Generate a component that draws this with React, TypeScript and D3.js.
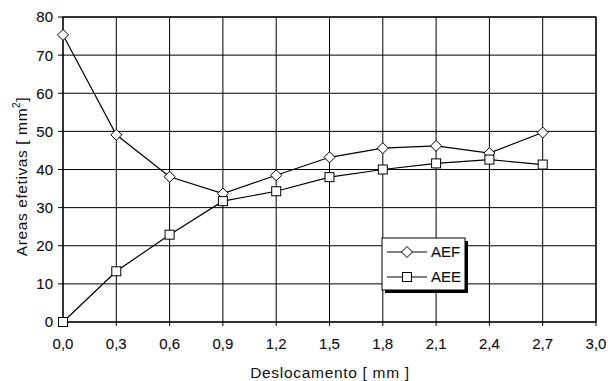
import React from 'react';
import * as d3 from 'd3';

// Deslocamento [mm]
const deslocamento = [0, 0.3, 0.6, 0.9, 1.2, 1.5, 1.8, 2.1, 2.4, 2.7];
const aef = [75.3, 49.1, 38.1, 33.7, 38.5, 43.2, 45.6, 46.2, 44.3, 49.7];
const aee = [0, 13.3, 22.9, 31.7, 34.3, 38.0, 40.0, 41.6, 42.6, 41.3];
const xTicks = [0, 0.3, 0.6, 0.9, 1.2, 1.5, 1.8, 2.1, 2.4, 2.7, 3.0];
const yTicks = [0, 10, 20, 30, 40, 50, 60, 70, 80];

const W = 608;
const H = 381;
const font = "'Liberation Sans', Arial, sans-serif";

function App() {
    const x = d3.scaleLinear().domain([0, 3]).range([63, 596]);
    const y = d3.scaleLinear().domain([0, 80]).range([322, 17]);

    const line = d3.line<number>()
        .x((_, i) => x(deslocamento[i]))
        .y((d) => y(d));

    const fmt = (v: number) => v.toFixed(1).replace('.', ',');

    const diamond = (cx: number, cy: number, key: string | number) => (
        <path key={key} d={`M${cx},${cy - 5.5}L${cx + 5.5},${cy}L${cx},${cy + 5.5}L${cx - 5.5},${cy}Z`}
            fill="#fff" stroke="#000" strokeWidth={1} />
    );
    const square = (cx: number, cy: number, key: string | number) => (
        <rect key={key} x={cx - 4.5} y={cy - 4.5} width={9} height={9}
            fill="#fff" stroke="#000" strokeWidth={1} />
    );

    // legend box
    const lg = { x: 382, y: 238, w: 83, h: 52 };
    const txt = { fill: '#111', stroke: '#111', strokeWidth: 0.15 };

    return (
        <svg width={W} height={H} style={{ position: 'absolute', left: 0, top: 0, background: '#fff' }}
            fontFamily={font}>
            {/* grid */}
            {xTicks.map((t) => (
                <line key={'gx' + t} x1={x(t)} x2={x(t)} y1={y(80)} y2={y(0) + 4}
                    stroke="#000" strokeWidth={1} />
            ))}
            {yTicks.map((t) => (
                <line key={'gy' + t} x1={x(0) - 5} x2={x(3)} y1={y(t)} y2={y(t)}
                    stroke="#000" strokeWidth={1} />
            ))}
            <rect x={x(0)} y={y(80)} width={x(3) - x(0)} height={y(0) - y(80)}
                fill="none" stroke="#000" strokeWidth={1.2} />

            {/* tick labels */}
            {yTicks.map((t) => (
                <text key={'ly' + t} x={53} y={y(t)} dy="0.36em" textAnchor="end"
                    fontSize={15} {...txt}>{t}</text>
            ))}
            {xTicks.map((t) => (
                <text key={'lx' + t} x={x(t)} y={349} textAnchor="middle"
                    fontSize={15} {...txt}>{fmt(t)}</text>
            ))}

            {/* axis titles */}
            <text x={330} y={378} textAnchor="middle" fontSize={15.5} letterSpacing={0.7} fill="#111">
                Deslocamento [ mm ]
            </text>
            <text transform={`translate(27,${y(40) + 7}) rotate(-90)`} textAnchor="middle"
                fontSize={15.5} letterSpacing={0.6} fill="#111">
                Areas efetivas [ mm<tspan dy={-7} fontSize={10}>2</tspan><tspan dy={7}>]</tspan>
            </text>

            {/* series */}
            <path d={line(aef) || ''} fill="none" stroke="#000" strokeWidth={1.2} />
            <path d={line(aee) || ''} fill="none" stroke="#000" strokeWidth={1.2} />
            {aef.map((v, i) => diamond(x(deslocamento[i]), y(v), 'd' + i))}
            {aee.map((v, i) => square(x(deslocamento[i]), y(v), 's' + i))}

            {/* legend */}
            <rect x={lg.x + 3} y={lg.y + 3} width={lg.w} height={lg.h} fill="#000" />
            <rect x={lg.x} y={lg.y} width={lg.w} height={lg.h} fill="#fff" stroke="#000" strokeWidth={1} />
            <line x1={lg.x + 5} x2={lg.x + 45} y1={lg.y + 14} y2={lg.y + 14} stroke="#000" strokeWidth={1.2} />
            {diamond(lg.x + 25, lg.y + 14, 'ld')}
            <text x={lg.x + 49} y={lg.y + 14} dy="0.36em" fontSize={15} {...txt}>AEF</text>
            <line x1={lg.x + 5} x2={lg.x + 45} y1={lg.y + 39} y2={lg.y + 39} stroke="#000" strokeWidth={1.2} />
            {square(lg.x + 25, lg.y + 39, 'ls')}
            <text x={lg.x + 49} y={lg.y + 39} dy="0.36em" fontSize={15} {...txt}>AEE</text>
        </svg>
    );
}

export default App;
